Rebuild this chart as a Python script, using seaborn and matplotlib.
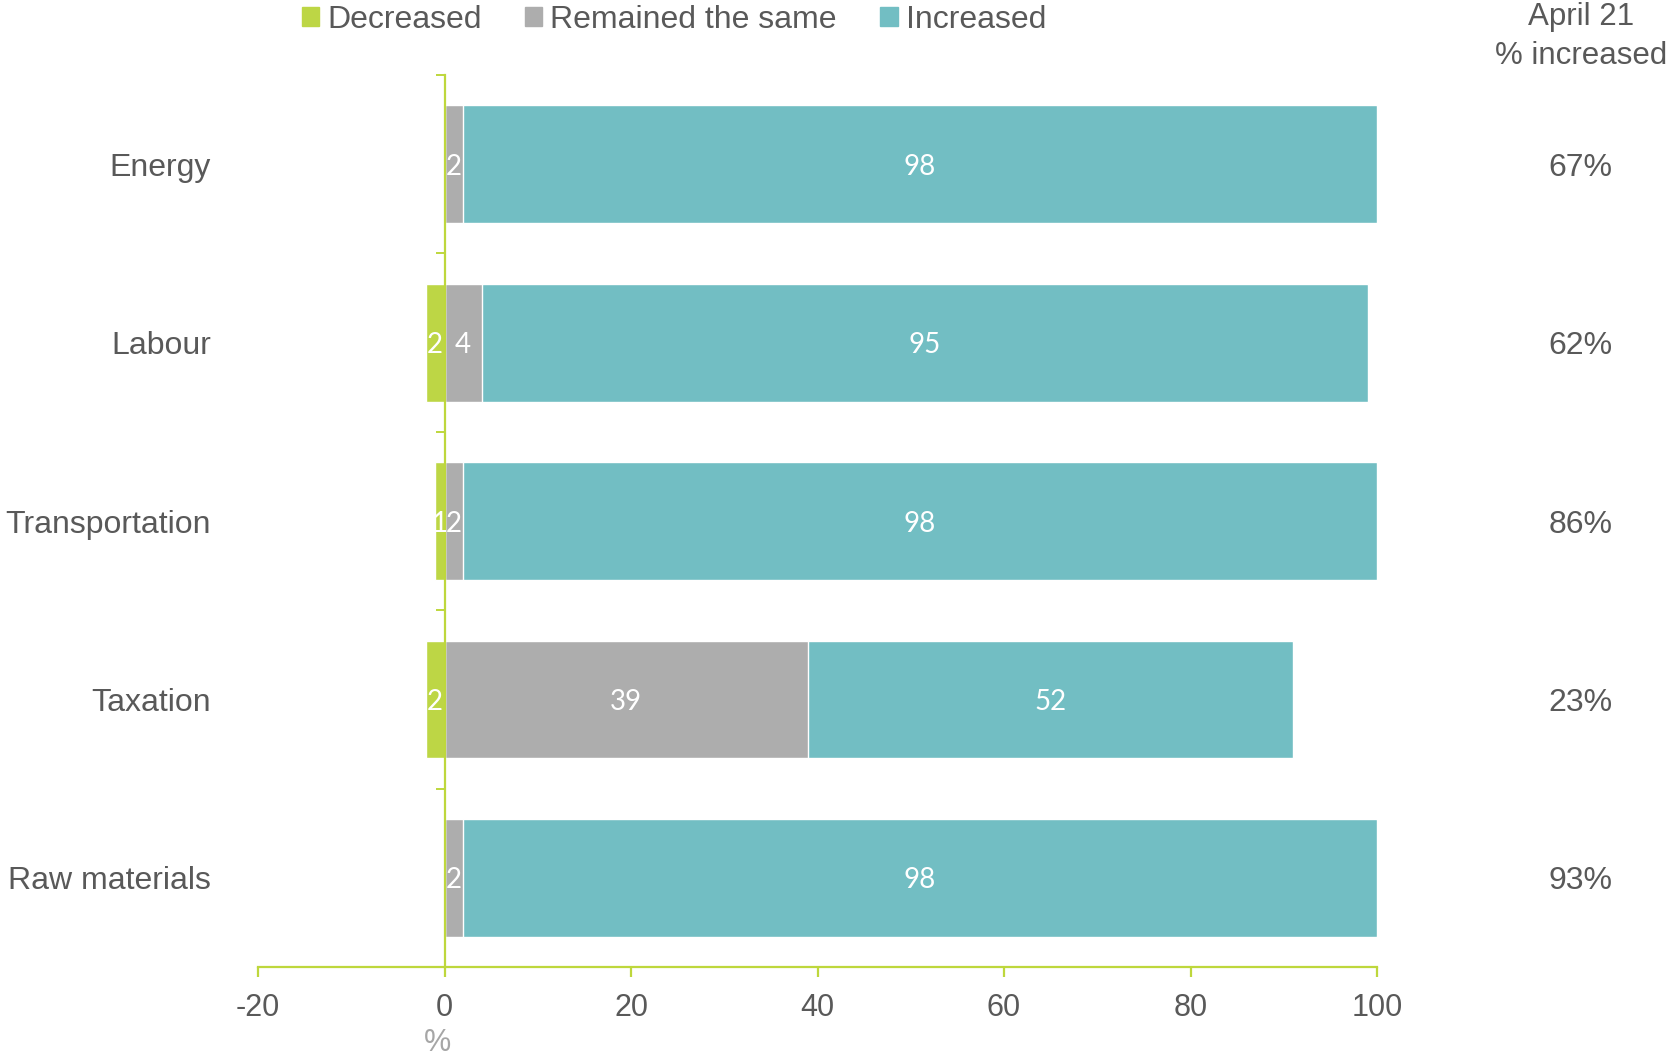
import matplotlib
matplotlib.use("Agg")
import matplotlib.pyplot as plt
import matplotlib.transforms as mtransforms
from matplotlib.patches import Patch
import numpy as np
import pandas as pd
import seaborn as sns

# data
categories = ["Energy", "Labour", "Transportation", "Taxation", "Raw materials"]
decreased = [0, 2, 1, 2, 0]
same = [2, 4, 2, 39, 2]
increased = [98, 95, 98, 52, 98]
april_pct = ["67%", "62%", "86%", "23%", "93%"]

GREEN = "#BDD645"
GREY = "#ADADAD"
TEAL = "#72BEC3"
AXIS = "#BED73C"
TXT = "#595959"

sns.set_style("white")
plt.rcParams["font.family"] = ["Liberation Sans", "DejaVu Sans"]
plt.rcParams["axes.unicode_minus"] = False

df = pd.DataFrame({"cat": categories, "dec": decreased, "same": same, "inc": increased})
df["neg_dec"] = -df["dec"]
df["total"] = df["same"] + df["inc"]

fig = plt.figure(figsize=(16.72, 10.58), dpi=100)
ax = fig.add_axes([0.1543, 0.086, 0.6693, 0.843])

# draw back to front: teal total, grey on top, green as negative
sns.barplot(data=df, y="cat", x="total", color=TEAL, saturation=1, width=0.66, ax=ax, orient="h")
sns.barplot(data=df, y="cat", x="same", color=GREY, saturation=1, width=0.66, ax=ax, orient="h")
sns.barplot(data=df, y="cat", x="neg_dec", color=GREEN, saturation=1, width=0.66, ax=ax, orient="h")

ax.set_xlim(-20, 100)
ax.set_ylim(4.5, -0.5)
ax.set_xticks(range(-20, 101, 20))
ax.set_yticks(np.arange(-0.5, 5, 1))
ax.set_yticklabels([])
ax.set_ylabel("")
ax.set_xlabel("%", color="#A6A6A6", fontsize=22, x=0.16, labelpad=3)

for s in ["top", "right"]:
    ax.spines[s].set_visible(False)
ax.spines["left"].set_position(("data", 0))
for s in ["left", "bottom"]:
    ax.spines[s].set_color(AXIS)
    ax.spines[s].set_linewidth(1.6)
ax.tick_params(axis="x", direction="out", length=7, width=1.6, color=AXIS,
               labelsize=22, labelcolor=TXT, pad=12, bottom=True)
ax.tick_params(axis="y", direction="out", length=6.5, width=1.4, color=AXIS, left=True)

blend = mtransforms.blended_transform_factory(ax.transAxes, ax.transData)
lab = dict(color="white", fontsize=20, ha="center", va="center_baseline", family=["Lato", "DejaVu Sans"])
for i, row in df.iterrows():
    ax.text(-0.042, i, row["cat"], transform=blend, ha="right", va="center_baseline",
            fontsize=23, color=TXT)
    if row["dec"] > 0:
        ax.text(-row["dec"] / 2, i, str(row["dec"]), **lab)
    if row["same"] > 0:
        ax.text(row["same"] / 2, i, str(row["same"]), **lab)
    if row["inc"] > 0:
        ax.text(row["same"] + row["inc"] / 2, i, str(row["inc"]), **lab)
    ax.text(1.182, i, april_pct[i], transform=blend, ha="center", va="center_baseline",
            fontsize=23, color=TXT)

fig.text(0.9457, 0.998, "April 21\n% increased", ha="center", va="top", fontsize=22.5,
         color=TXT, linespacing=1.4)

handles = [Patch(color=GREEN), Patch(color=GREY), Patch(color=TEAL)]
fig.legend(handles, ["Decreased", "Remained the same", "Increased"], ncol=3, loc="center",
           bbox_to_anchor=(0.403, 0.981), frameon=False, fontsize=23, labelcolor=TXT,
           handlelength=0.55, handleheight=0.55, handletextpad=0.25, columnspacing=1.35)

fig.savefig("out.png", dpi=100)
